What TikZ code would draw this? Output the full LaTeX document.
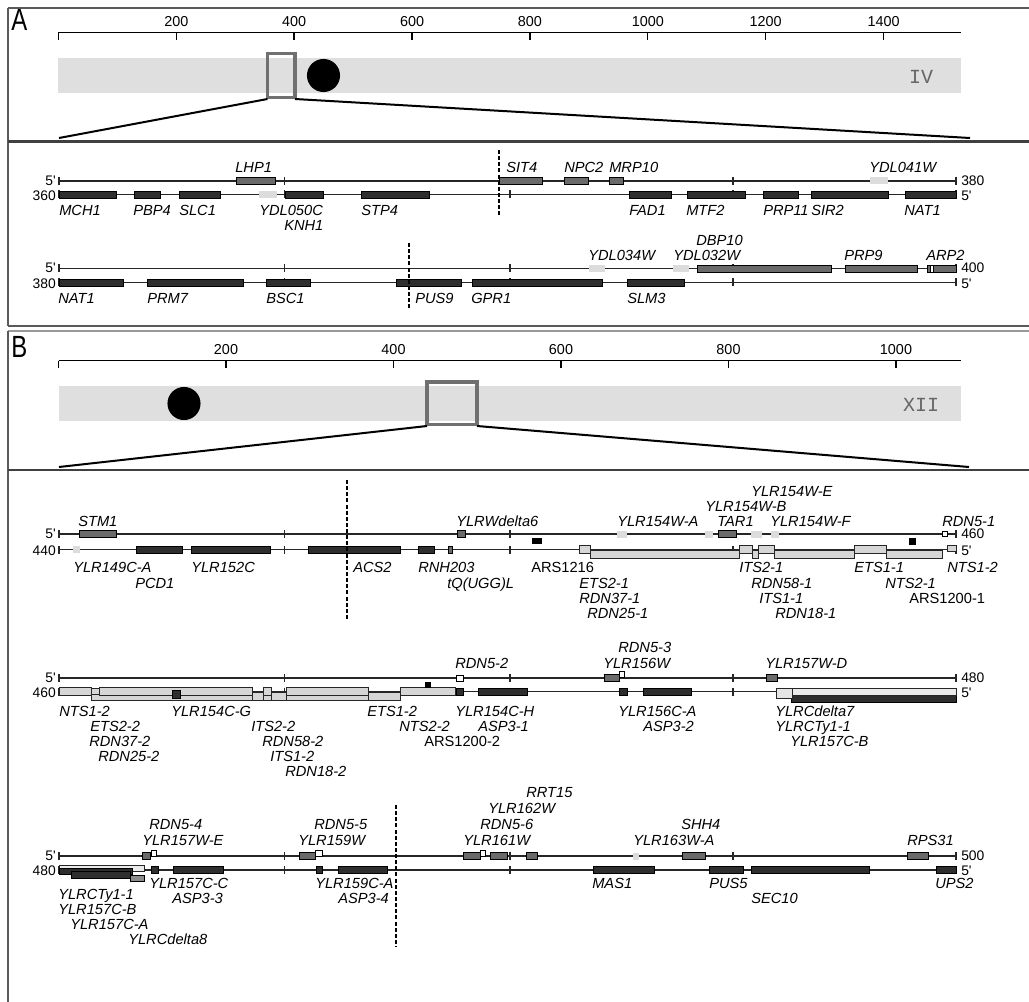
\documentclass[tikz,border=0pt]{standalone}
\usepackage{fontspec}
\setmainfont{Liberation Sans}
\newfontfamily\monof{Liberation Mono}
\newfontfamily\narrowf[FakeStretch=0.78]{Liberation Sans}
\definecolor{cdark}{HTML}{2E2E2E}
\definecolor{cmid}{HTML}{6A6A6A}
\definecolor{clight}{HTML}{DCDCDC}
\definecolor{cband}{HTML}{DFDFDF}
\definecolor{crd}{HTML}{D6D6D6}
\definecolor{cframe}{HTML}{5A5A5A}
\definecolor{chl}{HTML}{707070}
\tikzset{
  strand/.style={line width=1.05pt, draw=black!85},
  tk/.style={line width=0.8pt, draw=black!85},
  cb/.style={fill=cdark, draw=black, line width=0.6pt},
  wb/.style={fill=cmid, draw=black, line width=0.6pt},
  db/.style={fill=clight},
  rb/.style={fill=crd, draw=black!85, line width=0.6pt},
  sb/.style={fill=white, draw=black, line width=0.6pt},
  ab/.style={fill=black},
  gl/.style={anchor=west, inner sep=0pt, font=\fontsize{11}{12}\selectfont\itshape, text height=7.8pt, text depth=0pt},
  al/.style={anchor=west, inner sep=0pt, font=\fontsize{11}{12}\selectfont, text height=7.8pt, text depth=0pt},
  el/.style={inner sep=0pt, font=\fontsize{10.4}{12}\selectfont, text height=7.4pt, text depth=0pt},
  rl/.style={inner sep=0pt, font=\fontsize{10.8}{12}\selectfont, text height=7.7pt, text depth=0pt},
  cutline/.style={line width=1.4pt, dash pattern=on 3pt off 1.6pt},
  framel/.style={line width=1.1pt, draw=cframe},
  sepl/.style={line width=2.2pt, draw=black!75},
  zooml/.style={line width=1.5pt},
  hlbox/.style={line width=2.6pt, draw=chl},
}
\newcommand\myC[3]{\draw[cb] (#1,#3-3.5) rectangle (#2,#3+3.5);}
\newcommand\myW[3]{\draw[wb] (#1,#3-3.5) rectangle (#2,#3+3.5);}
\newcommand\myD[3]{\fill[db] (#1,#3-3.5) rectangle (#2,#3+3.5);}
\newcommand\myR[4]{\draw[rb] (#1,#3) rectangle (#2,#4);}
\newcommand\myS[4]{\draw[sb] (#1,#3) rectangle (#2,#4);}
\newcommand\myA[4]{\fill[ab] (#1,#3) rectangle (#2,#4);}
\newcommand\glab[4]{\node[gl] (#1) at (#2,#3) {#4};}
\newcommand\alab[4]{\node[al] (#1) at (#2,#3) {#4};}
\newcommand\mytrack[5]{%
  \draw[strand] (59,#2) -- (956,#2);
  \draw[strand] (59,#3) -- (956,#3);
  \foreach \xx in {59,284.5,510,733,956}{\draw[tk] (\xx,#2-4) -- (\xx,#2+4); \draw[tk] (\xx,#3-4) -- (\xx,#3+4);}
  \node[el,anchor=east] (#1ul) at (56,#2-0.7) {5\textquotesingle};
  \node[el,anchor=east] (#1ll) at (56,#3+0.7) {#4};
  \node[el,anchor=west] (#1ur) at (961,#2-0.7) {#5};
  \node[el,anchor=west] (#1lr) at (961,#3+0.7) {5\textquotesingle};
}
\begin{document}
\begin{tikzpicture}[x=0.75pt,y=-0.75pt]
\useasboundingbox (0,0) rectangle (1029,1002);
\fill[white] (0,0) rectangle (1029,1002);
% ---------------- frames
\draw[framel] (8,8) -- (1029,8);
\draw[framel] (8,8) -- (8,326);
\draw[framel] (8,326) -- (1029,326);
\draw[framel, draw=black!40] (8,331) -- (1029,331);
\draw[framel] (8,331) -- (8,1002);
\draw[sepl] (8,141.5) -- (1029,141.5);
\draw[sepl] (8,470) -- (1029,470);
% ---------------- panel A header
\node[inner sep=0pt, anchor=base west, font=\narrowf\fontsize{23}{26}\selectfont] (labA) at (11,31) {A};
\draw[line width=1pt] (58.4,32.5) -- (961.3,32.5);
\draw[line width=1pt] (58.4,32.5) -- (58.4,40);
\foreach \k/\t in {200/200,400/400,600/600,800/800,1000/1000,1200/1200,1400/1400}{
  \draw[line width=1pt] (58.4+0.5894*\k,32.5) -- (58.4+0.5894*\k,40);
  \node[rl] (rA\t) at (58.4+0.5894*\k,21) {\t};
}
\fill[cband] (58.4,58) rectangle (961.3,93);
\node[inner sep=0pt, font=\monof\fontsize{15}{16}\selectfont, text=black!60] (chrIV) at (921,77) {IV};
\fill[black] (323.5,75.5) circle[radius=12.4pt];
\draw[hlbox] (267.5,53.5) rectangle (295,97.5);
\coordinate (hAl) at (267.5,99);
\coordinate (hAr) at (295,99);
\coordinate (tAl) at (59,138);
\coordinate (tAr) at (970,138);
\draw[zooml] (hAl) -- (tAl);
\draw[zooml] (hAr) -- (tAr);
% ---------------- track A1
\mytrack{ta}{181}{194.5}{360}{380}
\myW{236}{275}{181}
\myW{499}{542}{181}
\myW{564}{588}{181}
\myW{609}{623}{181}
\myD{870}{888}{181}
\myC{59}{116}{194.5}
\myC{134}{160}{194.5}
\myC{179}{220}{194.5}
\myD{259}{277}{194.5}
\myC{285}{323}{194.5}
\myC{361}{429}{194.5}
\myC{629}{671}{194.5}
\myC{687}{745}{194.5}
\myC{763}{798}{194.5}
\myC{811}{888}{194.5}
\myC{905}{956}{194.5}
\draw[cutline] (499,150) -- (499,216);
\glab{a1}{235}{167}{LHP1}
\glab{a2}{506}{167}{SIT4}
\glab{a3}{564}{167}{NPC2}
\glab{a4}{609}{167}{MRP10}
\glab{a5}{869}{167}{YDL041W}
\glab{a6}{59}{210}{MCH1}
\glab{a7}{133}{210}{PBP4}
\glab{a8}{179}{210}{SLC1}
\glab{a9}{259}{210}{YDL050C}
\glab{a10}{284}{225}{KNH1}
\glab{a11}{361}{210}{STP4}
\glab{a12}{629}{210}{FAD1}
\glab{a13}{686}{210}{MTF2}
\glab{a14}{763}{210}{PRP11}
\glab{a15}{811}{210}{SIR2}
\glab{a16}{904}{210}{NAT1}
% ---------------- track A2
\mytrack{tb}{268.5}{282.5}{380}{400}
\myD{589}{605}{268.5}
\myD{673}{689}{268.5}
\myW{697}{831}{268.5}
\myW{845}{917}{268.5}
\myW{927}{956}{268.5}
\draw[fill=white, draw=black, line width=0.4pt] (930,265) rectangle (933.3,272);
\myC{59}{123}{282.5}
\myC{147}{243}{282.5}
\myC{266}{310}{282.5}
\myC{396}{461}{282.5}
\myC{472}{602}{282.5}
\myC{627}{684}{282.5}
\draw[cutline] (408.7,243) -- (408.7,308);
\glab{a17}{588}{255}{YDL034W}
\glab{a18}{696}{240}{DBP10}
\glab{a19}{673}{255}{YDL032W}
\glab{a20}{844}{255}{PRP9}
\glab{a21}{926}{255}{ARP2}
\glab{a22}{58}{298.5}{NAT1}
\glab{a23}{147}{298.5}{PRM7}
\glab{a24}{266}{298.5}{BSC1}
\glab{a25}{415}{298.5}{PUS9}
\glab{a26}{471}{298.5}{GPR1}
\glab{a27}{627}{298.5}{SLM3}
% ---------------- panel B header
\node[inner sep=0pt, anchor=base west, font=\narrowf\fontsize{23}{26}\selectfont] (labB) at (11,358) {B};
\draw[line width=1pt] (58.5,360.5) -- (961,360.5);
\draw[line width=1pt] (58.5,360.5) -- (58.5,368);
\foreach \k/\t in {200/200,400/400,600/600,800/800,1000/1000}{
  \draw[line width=1pt] (58.5+0.8375*\k,360.5) -- (58.5+0.8375*\k,368);
  \node[rl] (rB\t) at (58.5+0.8375*\k,349) {\t};
}
\fill[cband] (58.5,386) rectangle (961,421);
\node[inner sep=0pt, font=\monof\fontsize{15}{16}\selectfont, text=black!60] (chrXII) at (921,405) {XII};
\fill[black] (184,403.5) circle[radius=12.4pt];
\draw[hlbox] (427,382) rectangle (477,424.5);
\coordinate (hBl) at (427,426);
\coordinate (hBr) at (477,426);
\coordinate (tBl) at (59,467);
\coordinate (tBr) at (969,467);
\draw[zooml] (hBl) -- (tBl);
\draw[zooml] (hBr) -- (tBr);
% ---------------- track B1
\mytrack{tc}{534}{549.5}{440}{460}
\myW{79}{116}{534}
\myW{457}{465}{534}
\myD{617}{627}{534}
\myD{705}{713}{534}
\myW{718}{736}{534}
\myD{751}{762}{534}
\myD{771}{779}{534}
\myS{942}{947}{531.5}{536.5}
\myD{73}{80}{549.5}
\myC{136}{182}{549.5}
\myC{191}{270}{549.5}
\myC{308}{400}{549.5}
\myC{418}{434}{549.5}
\draw[wb] (448,546) rectangle (452,553);
\myA{532}{542}{538}{544}
\myA{909}{916}{538}{545}
% rDNA row B
\myR{590}{739}{550.5}{558.5}
\myR{752}{758}{550.5}{558.5}
\myR{774}{854}{550.5}{558.5}
\myR{886}{942}{550.5}{558.5}
% rDNA row A
\myR{579}{590}{545}{553}
\myR{739}{752}{545}{553}
\myR{758}{774}{545}{553}
\myR{854}{886}{545}{553}
\myR{947}{956}{545.5}{551.5}
\draw[cutline] (347,480) -- (347,620);
\glab{b1}{78}{521}{STM1}
\glab{b2}{456}{521}{YLRWdelta6}
\glab{b3}{617}{521}{YLR154W-A}
\glab{b4}{705}{506}{YLR154W-B}
\glab{b5}{751}{491}{YLR154W-E}
\glab{b6}{717}{521}{TAR1}
\glab{b7}{770}{521}{YLR154W-F}
\glab{b8}{942}{521}{RDN5-1}
\glab{b9}{73}{567}{YLR149C-A}
\glab{b10}{135}{583}{PCD1}
\glab{b11}{191}{567}{YLR152C}
\glab{b12}{353}{567}{ACS2}
\glab{b13}{418}{567}{RNH203}
\glab{b14}{447}{583}{tQ(UGG)L}
\alab{b15}{531}{567}{ARS1216}
\glab{b16}{579}{583}{ETS2-1}
\glab{b17}{579}{598}{RDN37-1}
\glab{b18}{587}{613}{RDN25-1}
\glab{b19}{739}{567}{ITS2-1}
\glab{b20}{751}{583}{RDN58-1}
\glab{b21}{759}{598}{ITS1-1}
\glab{b22}{775}{613}{RDN18-1}
\glab{b23}{854}{567}{ETS1-1}
\glab{b24}{885}{583}{NTS2-1}
\alab{b25}{909}{598}{ARS1200-1}
\glab{b26}{947}{567}{NTS1-2}
% ---------------- track B2
\mytrack{td}{678}{691.5}{460}{480}
\myS{456}{463}{675}{681}
\myW{604}{619}{678}
\myS{619}{624}{671}{677}
\myW{766}{777}{678}
% rDNA row B
\myR{91}{400}{692.5}{700.5}
\myR{252}{263}{692.5}{700.5}
\myR{271}{286}{692.5}{700.5}
\myR{368}{400}{692.5}{700.5}
% rDNA row A
\myR{59}{91}{687.5}{695}
\myR{91}{99}{688.5}{694}
\myR{99}{252}{687.5}{695}
\myR{263}{271}{687.5}{695}
\myR{286}{368}{687.5}{695}
\myR{400}{455}{687.5}{695}
\draw[cb] (172,690.5) rectangle (180,698.5);
\myA{425}{431}{682}{688}
\myC{456}{463}{691.5}
\myC{478}{527}{691.5}
\myC{619}{627}{691.5}
\myC{643}{691}{691.5}
\draw[cb] (791,695) rectangle (956,702);
\draw[rb, fill=black!8] (776,688.5) rectangle (956,695);
\draw[rb, fill=black!10] (776,688) rectangle (792,698);
\glab{c1}{455}{663}{RDN5-2}
\glab{c2}{618}{647}{RDN5-3}
\glab{c3}{603}{663}{YLR156W}
\glab{c4}{765}{663}{YLR157W-D}
\glab{c5}{59}{711}{NTS1-2}
\glab{c6}{90}{726}{ETS2-2}
\glab{c7}{89}{741}{RDN37-2}
\glab{c8}{98}{756}{RDN25-2}
\glab{c9}{171}{711}{YLR154C-G}
\glab{c10}{251}{726}{ITS2-2}
\glab{c11}{262}{741}{RDN58-2}
\glab{c12}{270}{756}{ITS1-2}
\glab{c13}{285}{771}{RDN18-2}
\glab{c14}{367}{711}{ETS1-2}
\glab{c15}{399}{726}{NTS2-2}
\alab{c16}{424}{741}{ARS1200-2}
\glab{c17}{455}{711}{YLR154C-H}
\glab{c18}{478}{726}{ASP3-1}
\glab{c19}{618}{711}{YLR156C-A}
\glab{c20}{643}{726}{ASP3-2}
\glab{c21}{775}{711}{YLRCdelta7}
\glab{c22}{775}{726}{YLRCTy1-1}
\glab{c23}{790}{741}{YLR157C-B}
% ---------------- track B3
\mytrack{te}{856}{870}{480}{500}
\myW{142}{150}{856}
\myS{151}{156}{850}{856}
\myW{299}{315}{856}
\myS{315}{322}{850}{856}
\myW{463}{480}{856}
\myS{480}{485}{850}{856}
\myW{490}{507}{856}
\myW{526}{537}{856}
\myD{633}{639}{856}
\myW{682}{705}{856}
\myW{907}{928}{856}
\draw[rb, fill=black!8] (59,865) rectangle (144,871);
\draw[cb] (59,868) rectangle (132,874);
\draw[cb] (71,871) rectangle (130,878);
\draw[wb, fill=black!45] (130,875) rectangle (144,881);
\myC{151}{158}{870}
\myC{173}{223}{870}
\myC{316}{322}{870}
\myC{338}{387}{870}
\myC{593}{654}{870}
\myC{709}{743}{870}
\myC{751}{869}{870}
\myC{936}{956}{870}
\draw[cutline] (396,805) -- (396,947);
\glab{d1}{149}{824}{RDN5-4}
\glab{d2}{142}{840}{YLR157W-E}
\glab{d3}{314}{824}{RDN5-5}
\glab{d4}{298}{840}{YLR159W}
\glab{d5}{463}{840}{YLR161W}
\glab{d6}{480}{824}{RDN5-6}
\glab{d7}{488}{808}{YLR162W}
\glab{d8}{526}{792}{RRT15}
\glab{d9}{633}{840}{YLR163W-A}
\glab{d10}{681}{824}{SHH4}
\glab{d11}{907}{840}{RPS31}
\glab{d12}{58}{894}{YLRCTy1-1}
\glab{d13}{58}{909}{YLR157C-B}
\glab{d14}{70}{924}{YLR157C-A}
\glab{d15}{128}{939}{YLRCdelta8}
\glab{d16}{149}{883}{YLR157C-C}
\glab{d17}{172}{898}{ASP3-3}
\glab{d18}{315}{883}{YLR159C-A}
\glab{d19}{338}{898}{ASP3-4}
\glab{d20}{592}{883}{MAS1}
\glab{d21}{709}{883}{PUS5}
\glab{d22}{751}{898}{SEC10}
\glab{d23}{935}{883}{UPS2}
\end{tikzpicture}
\end{document}
